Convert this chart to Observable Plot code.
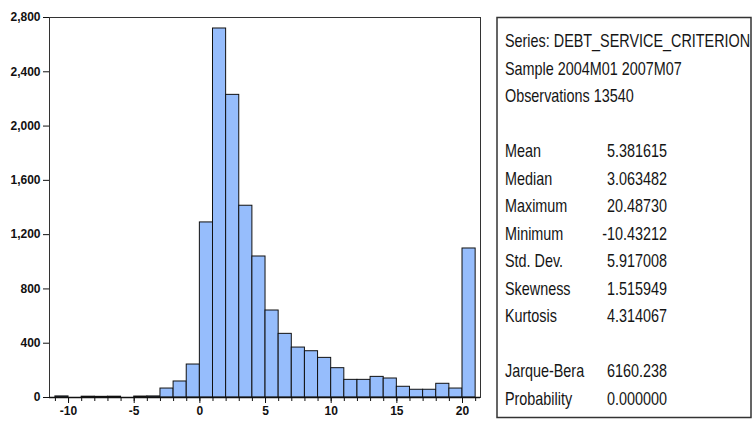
<!DOCTYPE html>
<html>
<head>
<meta charset="utf-8">
<script src="https://cdn.jsdelivr.net/npm/d3@7"></script>
<script src="https://cdn.jsdelivr.net/npm/@observablehq/plot@0.6"></script>
<style>
  body { margin: 0; background: #fff; }
  #wrap { position: relative; width: 752px; height: 421px; overflow: hidden; background: #fff; }
  #hist { position: absolute; left: 0; top: 0; }
  #stats { position: absolute; left: 0; top: 0; }
</style>
</head>
<body>
<div id="wrap">
  <div id="hist"></div>
  <svg id="stats" width="752" height="421"></svg>
</div>
<script>
// Histogram of DEBT_SERVICE_CRITERION: left edge of each unit-wide bin and its count
const binWidth = 1;
const binStart = [-11, -10, -9, -8, -7, -6, -5, -4, -3, -2, -1, 0, 1, 2, 3, 4,
                  5, 6, 7, 8, 9, 10, 11, 12, 13, 14, 15, 16, 17, 18, 19, 20];
const counts   = [8, 0, 6, 5, 6, 0, 7, 8, 66, 118, 243, 1290, 2719, 2230, 1413, 1039,
                  641, 469, 368, 341, 292, 216, 130, 130, 152, 140, 79, 57, 57, 101, 66, 1098];

// Axis ticks
const yTicks = [0, 400, 800, 1200, 1600, 2000, 2400, 2800];
const xTicks = [-10, -5, 0, 5, 10, 15, 20];
const xMinorTicks = d3.range(-11, 22);

// Descriptive statistics panel
const headerLines = ["Series: DEBT_SERVICE_CRITERION", "Sample 2004M01 2007M07", "Observations 13540"];
const statNames  = ["Mean", "Median", "Maximum", "Minimum", "Std. Dev.", "Skewness", "Kurtosis"];
const statValues = ["5.381615", "3.063482", "20.48730", "-10.43212", "5.917008", "1.515949", "4.314067"];
const testNames  = ["Jarque-Bera", "Probability"];
const testValues = ["6160.238", "0.000000"];

const bins = binStart
  .map((x0, i) => ({x0, x1: x0 + binWidth, n: counts[i]}))
  .filter(d => d.n > 0);

const chart = Plot.plot({
  width: 490,
  height: 421,
  marginLeft: 49,
  marginRight: 10,
  marginTop: 17,
  marginBottom: 24,
  x: {domain: [-11.45, 21.37]},
  y: {domain: [0, 2800]},
  style: {
    fontFamily: "'Liberation Sans', Arial, sans-serif",
    fontSize: "12px",
    fontWeight: "bold",
    color: "#111",
    background: "white",
    overflow: "visible"
  },
  marks: [
    Plot.rectY(bins, {x1: "x0", x2: "x1", y: "n", fill: "#96bdfc", stroke: "#111", strokeWidth: 1}),
    Plot.frame({stroke: "#333", strokeWidth: 1}),
    Plot.ruleY([0], {stroke: "#111", strokeWidth: 1.5}),
    Plot.axisY(yTicks, {tickSize: 6, tickPadding: 3, tickFormat: d3.format(","), label: null, stroke: "#111"}),
    Plot.axisX(xMinorTicks, {tickSize: 4, tickFormat: () => "", label: null, stroke: "#111"}),
    Plot.axisX(xTicks, {tickSize: 6, tickPadding: 3, tickFormat: d => String(d), label: null, stroke: "#111"})
  ]
});
document.getElementById("hist").appendChild(chart);

// Statistics box drawn beside the histogram, in a condensed sans-serif
const svg = d3.select("#stats");
svg.append("rect")
  .attr("x", 497).attr("y", 17.5).attr("width", 254).attr("height", 400)
  .attr("fill", "white").attr("stroke", "#333").attr("stroke-width", 1.5);

const squeeze = 0.8;
const textLayer = svg.append("g").attr("transform", `scale(${squeeze},1)`);
const rowY = i => 47.5 + 27.5 * i;
const labelX = 505, valueX = 667;

function addText(str, x, y, anchor) {
  textLayer.append("text")
    .attr("x", x / squeeze).attr("y", y)
    .attr("text-anchor", anchor)
    .attr("font-family", "'Liberation Sans', Arial, sans-serif")
    .attr("font-size", 18)
    .attr("fill", "#151515")
    .text(str);
}

headerLines.forEach((t, i) => addText(t, labelX, rowY(i), "start"));
statNames.forEach((t, i) => {
  addText(t, labelX, rowY(4 + i), "start");
  addText(statValues[i], valueX, rowY(4 + i), "end");
});
testNames.forEach((t, i) => {
  addText(t, labelX, rowY(12 + i), "start");
  addText(testValues[i], valueX, rowY(12 + i), "end");
});
</script>
</body>
</html>
